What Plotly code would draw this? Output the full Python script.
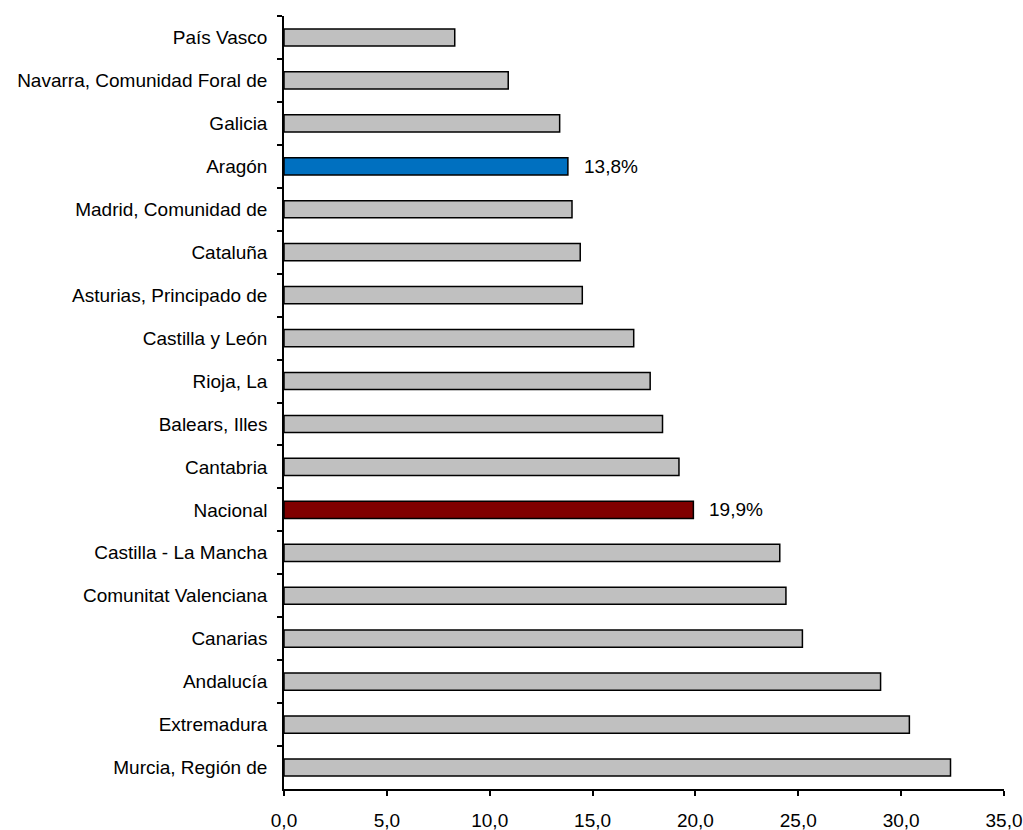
import plotly.graph_objects as go

regions = [
    "País Vasco", "Navarra, Comunidad Foral de", "Galicia", "Aragón",
    "Madrid, Comunidad de", "Cataluña", "Asturias, Principado de",
    "Castilla y León", "Rioja, La", "Balears, Illes", "Cantabria", "Nacional",
    "Castilla - La Mancha", "Comunitat Valenciana", "Canarias", "Andalucía",
    "Extremadura", "Murcia, Región de",
]
values = [8.3, 10.9, 13.4, 13.8, 14.0, 14.4, 14.5, 17.0, 17.8, 18.4, 19.2, 19.9,
          24.1, 24.4, 25.2, 29.0, 30.4, 32.4]
highlight_colors = {"Aragón": "#0070C0", "Nacional": "#800000"}
base_color = "#C0C0C0"
x_ticks = [0, 5, 10, 15, 20, 25, 30, 35]

colors = [highlight_colors.get(r, base_color) for r in regions]
FONT = "Liberation Sans, Arial, sans-serif"

fig = go.Figure(go.Bar(
    x=values, y=regions, orientation="h",
    marker=dict(color=colors, line=dict(color="black", width=1.5)),
    width=0.4, hoverinfo="x+y",
))

for r, v in zip(regions, values):
    if r in highlight_colors:
        fig.add_annotation(
            x=v, y=r, text=f"{v:.1f}%".replace(".", ","),
            xanchor="left", yanchor="middle", xshift=14, showarrow=False,
            font=dict(family=FONT, size=19, color="black"),
        )

fig.update_layout(
    width=1023, height=830,
    margin=dict(l=284, r=19, t=16, b=41, autoexpand=False),
    plot_bgcolor="white", paper_bgcolor="white",
    separators=",.",
    showlegend=False,
    font=dict(family=FONT, size=19, color="black"),
)
fig.update_xaxes(
    range=[0, 35], tickvals=x_ticks, tickformat=".1f",
    showline=True, linecolor="black", linewidth=1.5,
    ticks="outside", ticklen=5, tickwidth=1.5, tickcolor="black",
    showgrid=False, zeroline=False, ticklabelstandoff=8, automargin=False,
    tickfont=dict(family=FONT, size=19),
)
fig.update_yaxes(
    autorange="reversed", type="category",
    showline=True, linecolor="black", linewidth=1.5,
    ticks="outside", ticklen=5, tickwidth=1.5, tickcolor="black",
    tickson="boundaries", showgrid=False, ticklabelstandoff=11, automargin=False,
    tickfont=dict(family=FONT, size=19),
)

fig.write_html(
    "out.html",
    config={"displayModeBar": False},
    post_script="document.body.style.margin='0';document.body.style.overflow='hidden';",
)
